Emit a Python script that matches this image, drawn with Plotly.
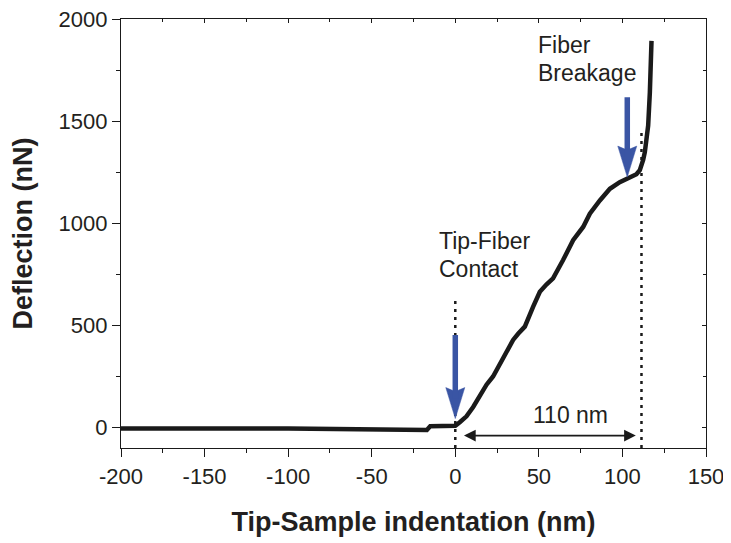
import plotly.graph_objects as go

# ---- data ----
indentation_nm = [-200, -180, -160, -140, -120, -100, -80, -60, -45, -30, -20, -17, -15, -10, -5, 0,
                  2.7, 6.7, 10.7, 14.7, 18.7, 22.6, 26.6, 30.6, 34.6, 37.6, 41.6, 46.6, 50.6, 54.5,
                  58.5, 64.5, 70.5, 76.5, 80.5, 86.5, 92.5, 98.4, 102.5, 106.4, 108.4, 110.4, 111.4,
                  112.4, 113.4, 114.4, 115.4, 116.4, 117.0, 117.4]
deflection_nN = [-4, -3, -3, -4, -5, -5, -6, -6, -7, -9, -12, -12, 6, 7, 8, 9,
                 26, 55, 101, 153, 210, 250, 307, 364, 429, 459, 494, 592, 665, 700,
                 730, 820, 917, 982, 1047, 1112, 1169, 1201, 1215, 1228, 1240, 1260, 1283,
                 1310, 1348, 1400, 1478, 1640, 1770, 1893]

x_range = [-200, 150]
y_range = [-100, 2000]
x_ticks = [-200, -150, -100, -50, 0, 50, 100, 150]
x_tick_text = ["-200", "-150", "-100", "-50", "0", "50", "100", "150"]
y_ticks = [0, 500, 1000, 1500, 2000]
y_tick_text = ["0", "500", "1000", "1500", "2000"]

# guide lines (x, top y)
guide_x = [0, 111.4]
guide_top = [624, 1463]

# blue arrows: x, tail y, tip y
blue_arrow_x = [0, 102.9]
blue_arrow_tail = [460, 1624]
blue_arrow_tip = [44, 1226]

# span arrow
span_start, span_end, span_y = 4.3, 108.0, -39
span_label = "110 nm"
span_label_pos = (69, 60)

# annotation text lines
label_lines = ["Tip-Fiber", "Contact", "Fiber", "Breakage"]
label_x = [-11.0, -11.0, 48.3, 48.3]
label_y = [912, 776, 1873, 1738]

FONT = "Liberation Sans, Arial, sans-serif"
TXT = "#231f20"
BLUE = "#3a55a4"

fig = go.Figure()
fig.add_trace(go.Scatter(x=indentation_nm, y=deflection_nN, mode="lines",
                         line=dict(color="#1a1a1a", width=4.5), hoverinfo="skip",
                         showlegend=False))
# empty trace to carry the mirrored top/right axes
fig.add_trace(go.Scatter(x=[], y=[], xaxis="x2", yaxis="y2", showlegend=False,
                         hoverinfo="skip"))

# dotted guides
for gx, gt in zip(guide_x, guide_top):
    fig.add_shape(type="line", x0=gx, x1=gx, y0=y_range[0], y1=gt, xref="x", yref="y",
                  line=dict(color="#1a1a1a", width=2.5, dash="3px,5px"))

# blue arrows: shaft via annotation, head via pixel-sized path
for bx, bt, bh in zip(blue_arrow_x, blue_arrow_tail, blue_arrow_tip):
    fig.add_annotation(x=bx, y=bh, ax=bx, ay=bt, axref="x", ayref="y", xref="x", yref="y",
                       text="", showarrow=True, arrowhead=0, arrowwidth=5.5,
                       arrowcolor=BLUE, standoff=20)
    fig.add_shape(type="path", xref="x", yref="y", xsizemode="pixel", ysizemode="pixel",
                  xanchor=bx, yanchor=bh,
                  path="M0,0 L-9.5,31 L0,27 L9.5,31 Z",
                  fillcolor=BLUE, line=dict(color=BLUE, width=0.5))

# span arrow
fig.add_annotation(x=span_end, y=span_y, ax=span_start, ay=span_y, axref="x", ayref="y",
                   xref="x", yref="y", text="", showarrow=True, arrowside="end+start",
                   arrowhead=2, startarrowhead=2, arrowsize=1.3, startarrowsize=1.3,
                   arrowwidth=1.8, arrowcolor="#1a1a1a")
fig.add_annotation(x=span_label_pos[0], y=span_label_pos[1], xref="x", yref="y",
                   text=span_label, showarrow=False, xanchor="center", yanchor="middle",
                   font=dict(family=FONT, size=23, color=TXT))

for t, lx, ly in zip(label_lines, label_x, label_y):
    fig.add_annotation(x=lx, y=ly, xref="x", yref="y", text=t, showarrow=False,
                       xanchor="left", yanchor="middle", align="left",
                       font=dict(family=FONT, size=23, color=TXT))

axis_common = dict(showgrid=False, zeroline=False, showline=True, linecolor="#1a1a1a",
                   linewidth=1.3, tickcolor="#1a1a1a", tickwidth=1.2, automargin=False,
                   ticklabeloverflow="allow")

fig.update_layout(
    width=723, height=535,
    margin=dict(l=113, r=25, t=11, b=95),
    paper_bgcolor="white", plot_bgcolor="white",
    font=dict(family=FONT, color=TXT),
    showlegend=False,
    xaxis=dict(range=x_range, tickvals=x_ticks, ticktext=x_tick_text, ticks="outside", ticklen=8,
               minor=dict(dtick=25, tick0=0, ticks="outside", ticklen=4, tickcolor="#1a1a1a"),
               tickfont=dict(size=22, color=TXT, family=FONT),
               title=dict(text="<b>Tip-Sample indentation (nm)</b>", standoff=24,
                          font=dict(size=27, color=TXT, family=FONT)),
               **axis_common),
    yaxis=dict(range=y_range, tickvals=y_ticks, ticktext=y_tick_text, ticks="outside", ticklen=8,
               minor=dict(dtick=250, tick0=0, ticks="outside", ticklen=4, tickcolor="#1a1a1a"),
               tickfont=dict(size=22, color=TXT, family=FONT),
               title=dict(text="<b>Deflection (nN)</b>", standoff=18,
                          font=dict(size=27, color=TXT, family=FONT)),
               **axis_common),
    xaxis2=dict(range=x_range, overlaying="x", side="top", anchor="y2", tickvals=x_ticks,
                ticks="inside", ticklen=4, showticklabels=False,
                minor=dict(dtick=25, tick0=0, ticks="inside", ticklen=3, tickcolor="#1a1a1a"),
                **axis_common),
    yaxis2=dict(range=y_range, overlaying="y", side="right", anchor="x2", tickvals=y_ticks,
                ticks="inside", ticklen=4, showticklabels=False,
                minor=dict(dtick=250, tick0=0, ticks="inside", ticklen=3, tickcolor="#1a1a1a"),
                **axis_common),
)

fig.write_html("out.html")
